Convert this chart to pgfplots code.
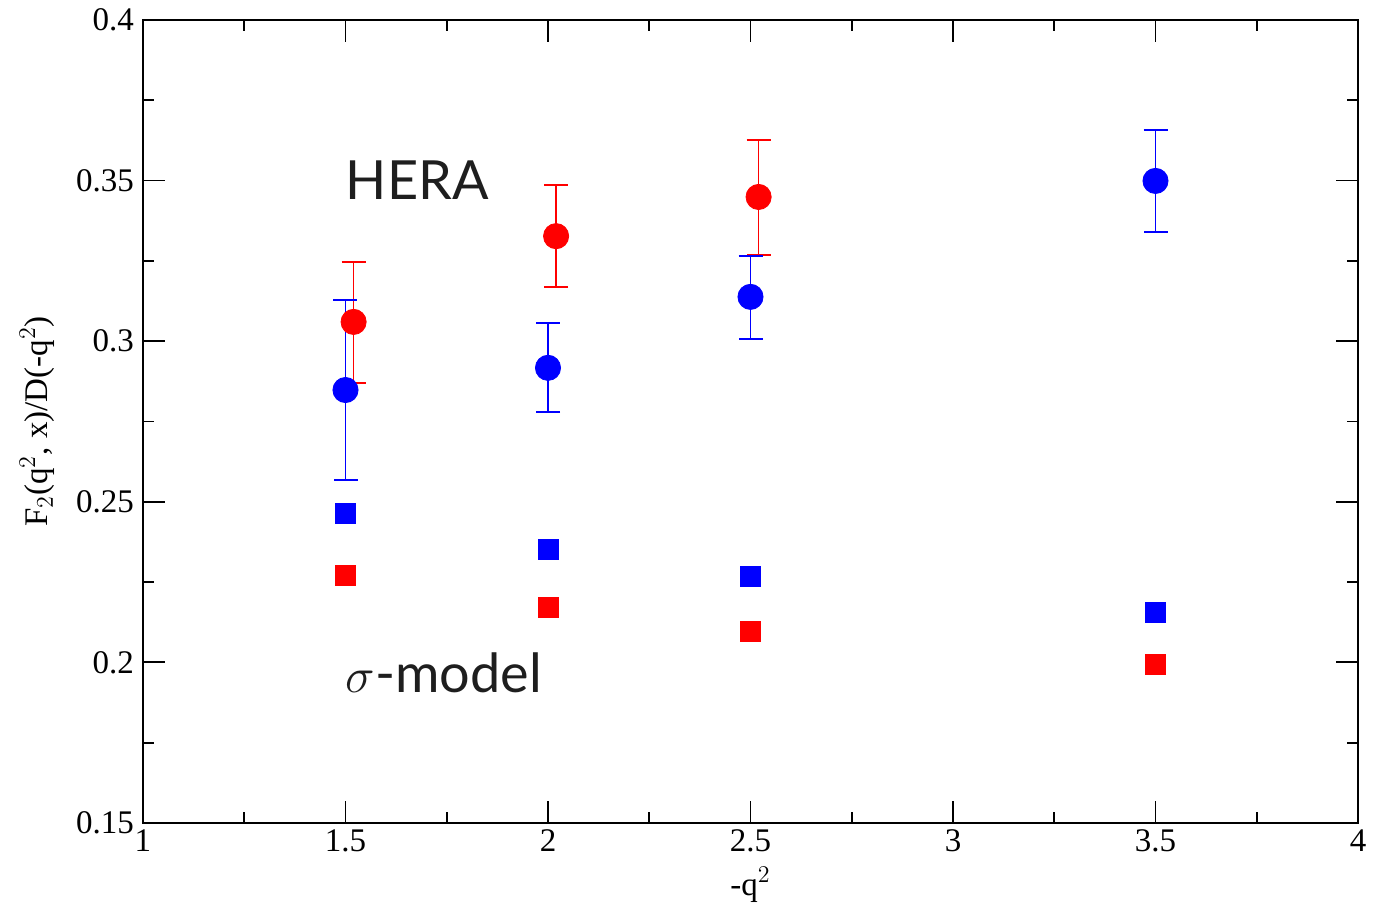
\documentclass[border=0pt]{standalone}
\usepackage{fontspec}
\setmainfont{Liberation Serif}
\newfontfamily\labelsans{Lato}
\usepackage{pgfplots}
\pgfplotsset{compat=1.18}
\definecolor{txtgray}{RGB}{30,30,30}

% blue: x, y, err+, err-
\pgfplotstableread{
x    y      ep     em
1.5  0.2848 0.0280 0.0280
2.0  0.2917 0.0140 0.0137
2.5  0.3138 0.0127 0.0131
3.5  0.3499 0.0159 0.0159
}\bluedata
\pgfplotstableread{
x     y      ep     em
1.52  0.3060 0.0187 0.0190
2.02  0.3327 0.0159 0.0158
2.52  0.3449 0.0177 0.0181
}\reddata

\begin{document}
\begin{tikzpicture}
\begin{axis}[
  scale only axis,
  width=607.5pt, height=401.5pt,
  xmin=1, xmax=4, ymin=0.15, ymax=0.4,
  xtick={1,1.5,...,4}, ytick={0.15,0.2,...,0.4},
  minor x tick num=1, minor y tick num=1,
  tick align=inside,
  major tick length=11pt, minor tick length=5.5pt,
  axis line style={line width=1pt},
  every tick/.style={black, line width=0.9pt},
  /pgf/number format/assume math mode=true,
  /pgf/number format/fixed,
  ticklabel style={font=\fontsize{16.5}{18}\selectfont},
  xticklabel style={yshift=0pt},
  yticklabel style={xshift=-1pt},
  xlabel={-q$^2$},
  ylabel={F$_2$(q$^2$, x)/D(-q$^2$)},
  label style={font=\fontsize{16.5}{18}\selectfont},
  xlabel style={at={(axis description cs:0.5,-0.09)}, anchor=base},
  ylabel style={at={(axis description cs:-0.087,0.5)}, anchor=center},
  clip=false,
]
% sigma-model squares
\addplot[only marks, mark=square*, mark size=5pt, blue] coordinates {
  (1.5,0.2465) (2.0,0.2353) (2.5,0.2269) (3.5,0.2157)};
\addplot[only marks, mark=square*, mark size=5pt, red] coordinates {
  (1.5,0.2272) (2.0,0.2172) (2.5,0.2098) (3.5,0.1995)};
% HERA points with errors
\addplot[only marks, mark=*, mark size=6.3pt, red,
  error bars/.cd, y dir=both, y explicit,
  error bar style={line width=0.8pt, red},
  error mark options={rotate=90, mark size=6pt, line width=0.8pt, red}]
  table[x=x, y=y, y error plus=ep, y error minus=em] {\reddata};
\addplot[only marks, mark=*, mark size=6.3pt, blue,
  error bars/.cd, y dir=both, y explicit,
  error bar style={line width=0.8pt, blue},
  error mark options={rotate=90, mark size=6pt, line width=0.8pt, blue}]
  table[x=x, y=y, y error plus=ep, y error minus=em] {\bluedata};

\node[anchor=base west, text=txtgray, inner sep=0pt, font=\labelsans\fontsize{27}{30}\selectfont]
  at (axis cs:1.5,0.3440) {HERA};
\node[anchor=base west, text=txtgray, inner sep=0pt, font=\labelsans\fontsize{27}{30}\selectfont]
  at (axis cs:1.5,0.1905) {$\sigma$-model};

% page frame matching the reference margins
\path (rel axis cs:0,0) ++(-71.5pt,-44.5pt) coordinate (bbA);
\path (rel axis cs:1,1) ++(11.5pt,10pt) coordinate (bbB);
\path[use as bounding box] (bbA) rectangle (bbB);
\end{axis}
\end{tikzpicture}
\end{document}
